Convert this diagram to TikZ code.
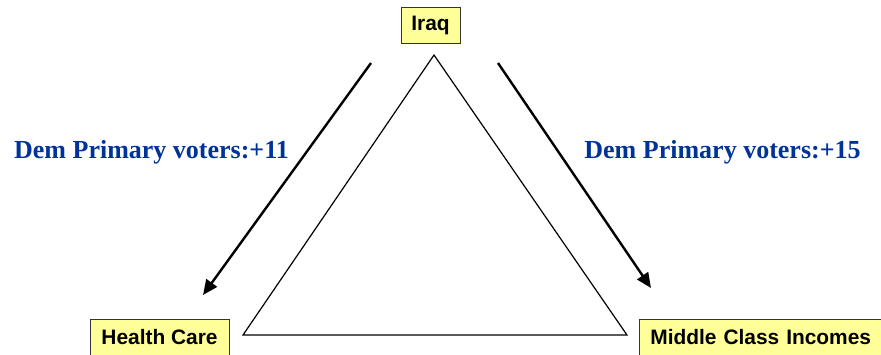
\documentclass[tikz,border=0pt]{standalone}
\usepackage{fontspec}
\setmainfont{Liberation Serif}
\newfontfamily\arialfont{Liberation Sans}
\usetikzlibrary{arrows.meta}
\definecolor{boxyellow}{HTML}{FFFF99}
\definecolor{votblue}{HTML}{003399}
\tikzset{
  topic/.style={draw=black!80, line width=0.8pt, fill=boxyellow, inner sep=0pt,
    minimum height=36pt, font=\arialfont\bfseries\fontsize{20.9}{24}\selectfont},
  votes/.style={text=votblue, inner sep=0pt, anchor=base,
    font=\bfseries\fontsize{26}{30}\selectfont},
  swing/.style={line width=2.4pt, -{Triangle[length=15pt,width=13pt]}},
  tri/.style={line width=1.2pt, line join=miter}
}
\begin{document}
\begin{tikzpicture}[x=1pt,y=-1pt]
\useasboundingbox (0,0) rectangle (881,354);
\node[topic, minimum width=59pt] (iraq) at (430.5,25) {Iraq};
\node[topic, minimum width=139pt] (health) at (159.5,337) {Health Care};
\node[topic, anchor=west, inner xsep=11pt, text width=230pt, align=left] (middle) at (639,337) {Middle Class Incomes};
\node[votes] (lbl1) at (151.5,158) {Dem Primary voters:+11};
\node[votes] (lbl2) at (722.5,158) {Dem Primary voters:+15};
\coordinate (apex) at (434,55);
\coordinate (bl) at (243,335);
\coordinate (br) at (627,335);
\draw[tri] (apex) -- (bl) -- (br) -- cycle;
\coordinate (la) at (371,63);
\coordinate (lb) at (203,295);
\coordinate (ra) at (498,63);
\coordinate (rb) at (651,288);
\draw[swing] (la) -- (lb);
\draw[swing] (ra) -- (rb);
\end{tikzpicture}
\end{document}
